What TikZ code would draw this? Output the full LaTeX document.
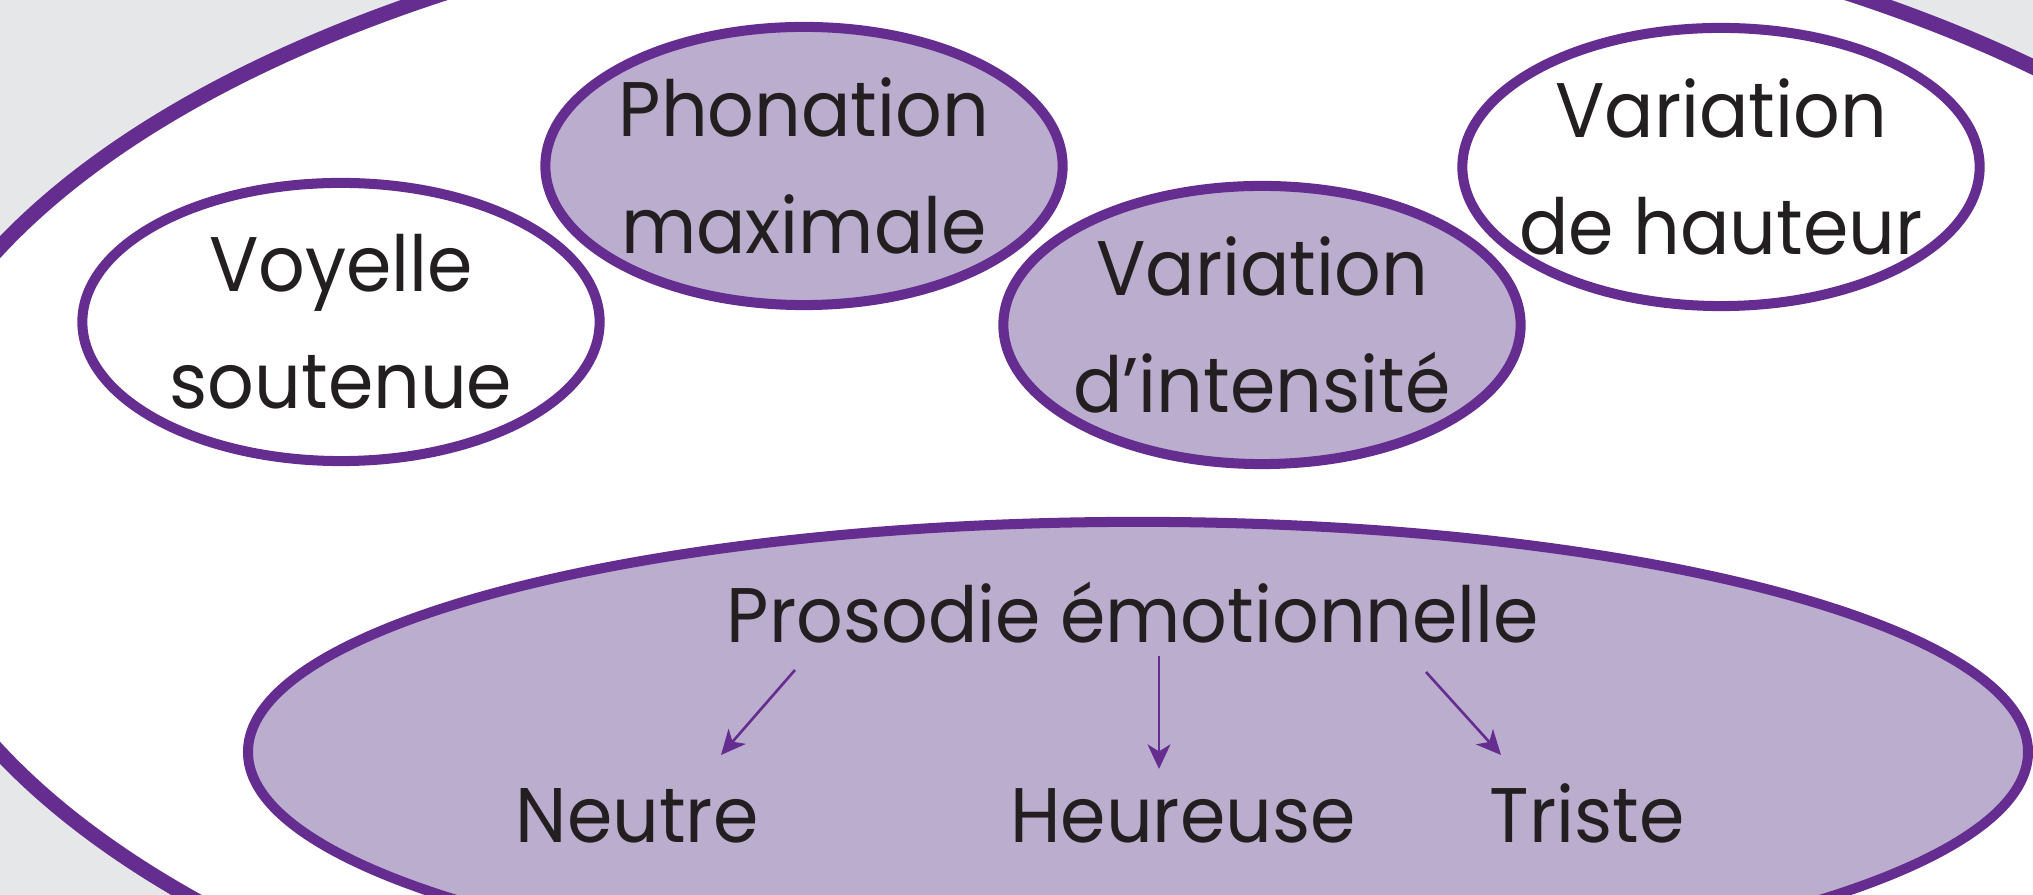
\documentclass[tikz,border=0pt]{standalone}
\usepackage{fontspec}
\setmainfont[FakeStretch=0.945]{Poppins}
\usetikzlibrary{shapes.geometric,arrows.meta}
\definecolor{prune}{HTML}{662D91}
\definecolor{lilas}{HTML}{BBADCE}
\definecolor{fond}{HTML}{E6E7E8}
\definecolor{encre}{HTML}{231F20}

\begin{document}
\begin{tikzpicture}[x=0.01cm,y=-0.01cm,
    bulle/.style={ellipse,draw=prune,line width=2.85pt,fill=#1,
                  minimum width=5.17cm,minimum height=2.78cm,inner sep=0pt},
    texte/.style={align=center,text=encre,inner sep=0pt,
                  font=\fontsize{22}{33.3}\selectfont},
    fleche/.style={draw=prune,line width=0.75pt,
                   -{Stealth[length=7pt,width=6.5pt,inset=2pt]}}]
  \useasboundingbox (0,0) rectangle (2033,895);
  \clip (0,0) rectangle (2033,895);
  \fill[fond] (0,0) rectangle (2033,895);
  \draw[prune,line width=4.3pt,fill=white] (1146,500) ellipse [x radius=12.58cm,y radius=6.10cm];
  % les quatre bulles du haut
  \node[bulle=white] (voyelle)   at (341 ,322) {};
  \node[bulle=lilas] (phonation) at (804 ,166) {};
  \node[bulle=lilas] (intensite) at (1262,325) {};
  \node[bulle=white] (hauteur)   at (1721,167) {};
  \node[texte] (voyelleT)   at (voyelle)   {Voyelle\\soutenue};
  \node[texte] (phonationT) at (phonation) {Phonation\\maximale};
  \node[texte] (intensiteT) at (intensite) {Variation\\d’intensité};
  \node[texte] (hauteurT)   at (hauteur)   {Variation\\de hauteur};
  % la grande bulle
  \node[bulle=lilas,minimum width=17.79cm,minimum height=4.60cm] (prosodie) at (1138,752) {};
  \node[texte,anchor=base] (titre)    at (1133,643) {Prosodie émotionnelle};
  \node[texte,anchor=base] (neutre)   at (637 ,843) {Neutre};
  \node[texte,anchor=base] (heureuse) at (1183,843) {Heureuse};
  \node[texte,anchor=base] (triste)   at (1587,843) {Triste};
  \draw[fleche] ([shift={(-338,27)}]titre.base) -- ([shift={(84,-88)}]neutre.base);
  \draw[fleche] ([shift={(26,13)}]titre.base)   -- ([shift={(-24,-74)}]heureuse.base);
  \draw[fleche] ([shift={(293,29)}]titre.base)  -- ([shift={(-86,-88)}]triste.base);
\end{tikzpicture}
\end{document}
